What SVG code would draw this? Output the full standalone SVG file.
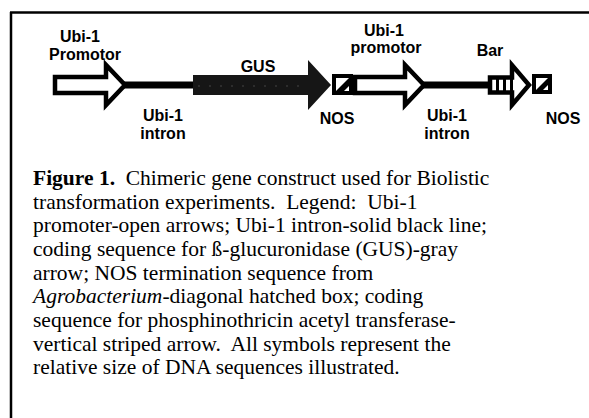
<svg xmlns="http://www.w3.org/2000/svg" width="589" height="418" viewBox="0 0 589 418">
<style>
.lbl{font-family:"Liberation Sans",Arial,sans-serif;font-weight:bold;font-size:16px;fill:#000;text-anchor:middle}
.cap{font-family:"Liberation Serif","Times New Roman",serif;font-size:21.5px;fill:#000}
.open{fill:#fff;stroke:#000;stroke-width:4.5;stroke-linejoin:miter}
.intron{fill:#000}
.nosbox{fill:#000}
</style>
<rect width="589" height="418" fill="#fff"/>
<g id="frame">
<line x1="10" y1="12.5" x2="589" y2="12.5" stroke="#000" stroke-width="2.5"/>
<line x1="11" y1="12" x2="11" y2="418" stroke="#000" stroke-width="2.5"/>
</g>
<g id="connectors">
<rect class="intron" x="122" y="81.5" width="74" height="7"/>
<rect class="intron" x="422" y="81.5" width="68" height="7"/>
</g>
<g id="promoter1">
<polygon class="open" points="55,77 106,77 106,65 125,85 106,105 106,93 55,93"/>
<text class="lbl" x="80" y="42">Ubi-1</text>
<text class="lbl" x="85" y="60">Promotor</text>
</g>
<g id="intron1-label">
<text class="lbl" x="163" y="121">Ubi-1</text>
<text class="lbl" x="163" y="139">intron</text>
</g>
<g id="gus">
<polygon points="193,75 308,75 308,60 331,85 308,110 308,95 193,95" fill="#161616"/>
<line x1="198" y1="86" x2="300" y2="86" stroke="#444" stroke-width="1" stroke-dasharray="2 9"/>
<text class="lbl" x="258" y="72">GUS</text>
</g>
<g id="nos1">
<rect class="nosbox" x="332" y="74" width="21" height="21"/>
<rect x="336" y="78" width="13" height="13" fill="#fff"/>
<polygon points="349,78 349,91 336,91" fill="#000"/>
<polygon points="349,86 349,91 344,91" fill="#fff"/>
<text class="lbl" x="337" y="124">NOS</text>
</g>
<g id="promoter2">
<polygon class="open" points="355,77 405,77 405,65 424,85 405,105 405,93 355,93"/>
<text class="lbl" x="384" y="36">Ubi-1</text>
<text class="lbl" x="386" y="53">promotor</text>
</g>
<g id="intron2-label">
<text class="lbl" x="447" y="121">Ubi-1</text>
<text class="lbl" x="447" y="139">intron</text>
</g>
<g id="bar">
<polygon class="open" points="490,77.5 512,77.5 512,65 529,85 512,105 512,92.5 490,92.5" stroke-width="4"/>
<rect x="496" y="78" width="3" height="14" fill="#000"/>
<rect x="503" y="78" width="3" height="14" fill="#000"/>
<rect x="510" y="78" width="3" height="14" fill="#000"/>
<text class="lbl" x="490" y="56">Bar</text>
</g>
<g id="nos2">
<rect class="nosbox" x="532" y="74" width="20" height="20"/>
<rect x="536" y="78" width="12" height="12" fill="#fff"/>
<polygon points="548,78 548,90 536,90" fill="#000"/>
<polygon points="548,85 548,90 543,90" fill="#fff"/>
<text class="lbl" x="563" y="124">NOS</text>
</g>
<g id="caption">
<text class="cap" x="33" y="185" xml:space="preserve"><tspan font-weight="bold">Figure 1.</tspan>  Chimeric gene construct used for Biolistic</text>
<text class="cap" x="33" y="209" xml:space="preserve">transformation experiments.  Legend:  Ubi-1</text>
<text class="cap" x="33" y="232">promoter-open arrows; Ubi-1 intron-solid black line;</text>
<text class="cap" x="33" y="256">coding sequence for ß-glucuronidase (GUS)-gray</text>
<text class="cap" x="33" y="280">arrow; NOS termination sequence from</text>
<text class="cap" x="33" y="303"><tspan font-style="italic">Agrobacterium</tspan>-diagonal hatched box; coding</text>
<text class="cap" x="33" y="327">sequence for phosphinothricin acetyl transferase-</text>
<text class="cap" x="33" y="351" xml:space="preserve">vertical striped arrow.  All symbols represent the</text>
<text class="cap" x="33" y="374">relative size of DNA sequences illustrated.</text>
</g>
</svg>
